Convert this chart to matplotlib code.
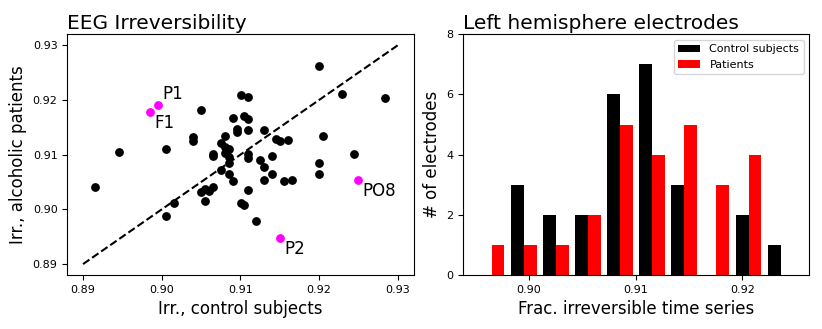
import numpy as np
import matplotlib
matplotlib.use('Agg')
import matplotlib.pyplot as plt

# scatter: irreversibility per electrode (controls vs alcoholic patients)
ctrl_irr = [0.89157, 0.89458, 0.90055, 0.90055, 0.90157, 0.90403, 0.90403, 0.90504,
            0.90504, 0.90555, 0.90555, 0.90606, 0.90657, 0.90657, 0.90657, 0.90754,
            0.90754, 0.90805, 0.90805, 0.90805, 0.90856, 0.90856, 0.90856, 0.90856,
            0.90903, 0.90903, 0.90953, 0.90953, 0.91004, 0.91004, 0.91051, 0.91051,
            0.91102, 0.91102, 0.91102, 0.91102, 0.91102, 0.91102, 0.91199, 0.91254,
            0.91301, 0.91301, 0.91301, 0.91398, 0.91398, 0.91449, 0.91500, 0.91551,
            0.91602, 0.91653, 0.91996, 0.91996, 0.91996, 0.92047, 0.92297, 0.92445,
            0.92843]
alc_irr = [0.90415, 0.91043, 0.91110, 0.89878, 0.90116, 0.91317, 0.91250, 0.91811,
           0.90311, 0.90378, 0.90146, 0.90341, 0.90415, 0.91012, 0.90982, 0.91207,
           0.90713, 0.91348, 0.91146, 0.91024, 0.91110, 0.90957, 0.90854, 0.90652,
           0.91677, 0.90512, 0.91463, 0.91415, 0.92085, 0.90116, 0.91713, 0.90079,
           0.92049, 0.91652, 0.91451, 0.91018, 0.90945, 0.90348, 0.89780, 0.90909,
           0.91445, 0.90780, 0.90543, 0.90982, 0.90646, 0.91280, 0.91244, 0.90512,
           0.91274, 0.90543, 0.92616, 0.90848, 0.90646, 0.91348, 0.92116, 0.91012,
           0.92043]

# highlighted electrodes
hl_names = ['P1', 'F1', 'P2', 'PO8']
hl_ctrl = [0.89953, 0.89856, 0.91500, 0.92496]
hl_alc = [0.91909, 0.91780, 0.89476, 0.90543]

# histogram (left hemisphere electrodes)
bin_edges = np.linspace(0.8950, 0.9251, 11)
ctrl_counts = [0, 3, 2, 2, 6, 7, 3, 0, 2, 1]
pat_counts = [1, 1, 1, 2, 5, 4, 5, 3, 4, 0]

fig, (ax1, ax2) = plt.subplots(1, 2, figsize=(8.22, 3.29), dpi=100)
plt.subplots_adjust(left=0.0819, right=0.9845, top=0.8957, bottom=0.1641, wspace=0.143)

ax1.plot([0.89, 0.93], [0.89, 0.93], 'k--')
ax1.plot(ctrl_irr, alc_irr, 'ko', markersize=5.3)
ax1.plot(hl_ctrl, hl_alc, 'o', color='magenta', markersize=5.3)
for name, x, y in zip(hl_names, hl_ctrl, hl_alc):
    off = (3, 4) if name == 'P1' else (3, -11.5)
    ax1.annotate(name, (x, y), xytext=off, textcoords='offset points', fontsize=12)
ax1.set_xticks([0.89, 0.90, 0.91, 0.92, 0.93])
ax1.set_yticks([0.89, 0.90, 0.91, 0.92, 0.93])
ax1.tick_params(labelsize=8)
ax1.set_xlabel('Irr., control subjects', fontsize=12)
ax1.set_ylabel('Irr., alcoholic patients', fontsize=12)
ax1.set_title('EEG Irreversibility', loc='left', fontsize=14.5, pad=3.6)

centers = (bin_edges[:-1] + bin_edges[1:]) / 2
ax2.hist([centers, centers], bins=bin_edges, weights=[ctrl_counts, pat_counts],
         color=['black', 'red'], label=['Control subjects', 'Patients'])
ax2.set_ylim(0, 8)
ax2.set_xticks([0.90, 0.91, 0.92])
ax2.set_yticks([0, 2, 4, 6, 8])
ax2.tick_params(labelsize=8)
ax2.set_xlabel('Frac. irreversible time series', fontsize=12)
ax2.set_ylabel('# of electrodes', fontsize=12)
ax2.set_title('Left hemisphere electrodes', loc='left', fontsize=14.5, pad=3.6)
ax2.legend(fontsize=8, loc='upper right')

plt.savefig('out.png')
